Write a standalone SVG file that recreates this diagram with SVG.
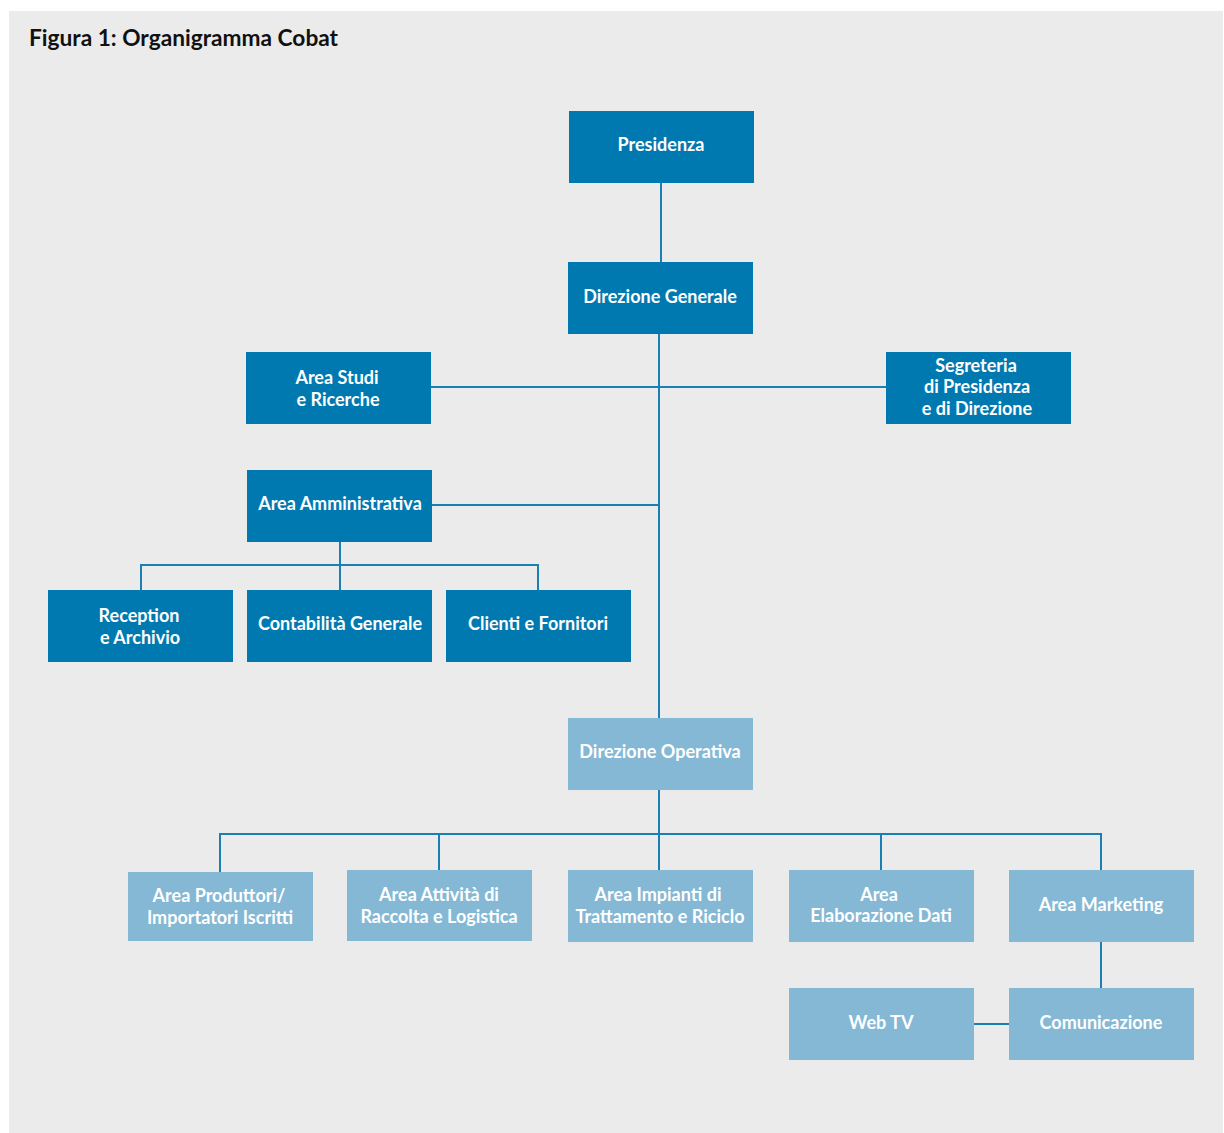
<svg xmlns="http://www.w3.org/2000/svg" width="1224" height="1133" viewBox="0 0 1224 1133">
<style>
.bg{fill:#ebebeb}
.dk{fill:#0079b0}
.lt{fill:#84b8d5}
.t{font-family:Lato,"Liberation Sans",sans-serif;font-weight:bold;font-size:18px;fill:#ffffff;text-anchor:middle;dominant-baseline:central}
.title{font-family:Lato,"Liberation Sans",sans-serif;font-weight:bold;font-size:22.7px;fill:#111111}
.c{stroke:#1a7fb2;stroke-width:2;fill:none}
</style>
<rect x="0" y="0" width="1224" height="1133" fill="#ffffff"/>
<rect class="bg" x="9" y="11" width="1214" height="1122"/>
<text class="title" x="29" y="46">Figura 1: Organigramma Cobat</text>
<g id="connectors">
<path class="c" d="M661 183V262"/>
<path class="c" d="M659 334V718"/>
<path class="c" d="M431 387H886"/>
<path class="c" d="M432 505H659"/>
<path class="c" d="M340 542V590M141 590V565H538V590"/>
<path class="c" d="M659 790V870M220 872V834H1101V870M439 834V870M881 834V870"/>
<path class="c" d="M1101 942V988"/>
<path class="c" d="M974 1024H1009"/>
</g>
<g id="presidenza"><rect class="dk" x="569" y="111" width="185" height="72"/><text class="t" x="661" y="144">Presidenza</text></g>
<g id="direzione-generale"><rect class="dk" x="568" y="262" width="185" height="72"/><text class="t" x="660" y="296">Direzione Generale</text></g>
<g id="area-studi"><rect class="dk" x="246" y="352" width="185" height="72"/><text class="t" x="337" y="377">Area Studi</text><text class="t" x="338" y="399">e Ricerche</text></g>
<g id="segreteria"><rect class="dk" x="886" y="352" width="185" height="72"/><text class="t" x="976" y="365">Segreteria</text><text class="t" x="977" y="386">di Presidenza</text><text class="t" x="977" y="408">e di Direzione</text></g>
<g id="area-amministrativa"><rect class="dk" x="247" y="470" width="185" height="72"/><text class="t" x="340" y="503">Area Amministrativa</text></g>
<g id="reception"><rect class="dk" x="48" y="590" width="185" height="72"/><text class="t" x="139" y="615">Reception</text><text class="t" x="140" y="637">e Archivio</text></g>
<g id="contabilita"><rect class="dk" x="247" y="590" width="185" height="72"/><text class="t" x="340" y="623">Contabilità Generale</text></g>
<g id="clienti"><rect class="dk" x="446" y="590" width="185" height="72"/><text class="t" x="538" y="623">Clienti e Fornitori</text></g>
<g id="direzione-operativa"><rect class="lt" x="568" y="718" width="185" height="72"/><text class="t" x="660" y="751">Direzione Operativa</text></g>
<g id="area-produttori"><rect class="lt" x="128" y="872" width="185" height="69"/><text class="t" x="219" y="895">Area Produttori/</text><text class="t" x="220" y="917">Importatori Iscritti</text></g>
<g id="area-attivita"><rect class="lt" x="347" y="870" width="185" height="71"/><text class="t" x="439" y="894">Area Attività di</text><text class="t" x="439" y="916">Raccolta e Logistica</text></g>
<g id="area-impianti"><rect class="lt" x="568" y="870" width="185" height="72"/><text class="t" x="658" y="894">Area Impianti di</text><text class="t" x="660" y="916">Trattamento e Riciclo</text></g>
<g id="area-elaborazione"><rect class="lt" x="789" y="870" width="185" height="72"/><text class="t" x="879" y="894">Area</text><text class="t" x="881" y="915">Elaborazione Dati</text></g>
<g id="area-marketing"><rect class="lt" x="1009" y="870" width="185" height="72"/><text class="t" x="1101" y="904">Area Marketing</text></g>
<g id="web-tv"><rect class="lt" x="789" y="988" width="185" height="72"/><text class="t" x="881" y="1022">Web TV</text></g>
<g id="comunicazione"><rect class="lt" x="1009" y="988" width="185" height="72"/><text class="t" x="1101" y="1022">Comunicazione</text></g>
</svg>
